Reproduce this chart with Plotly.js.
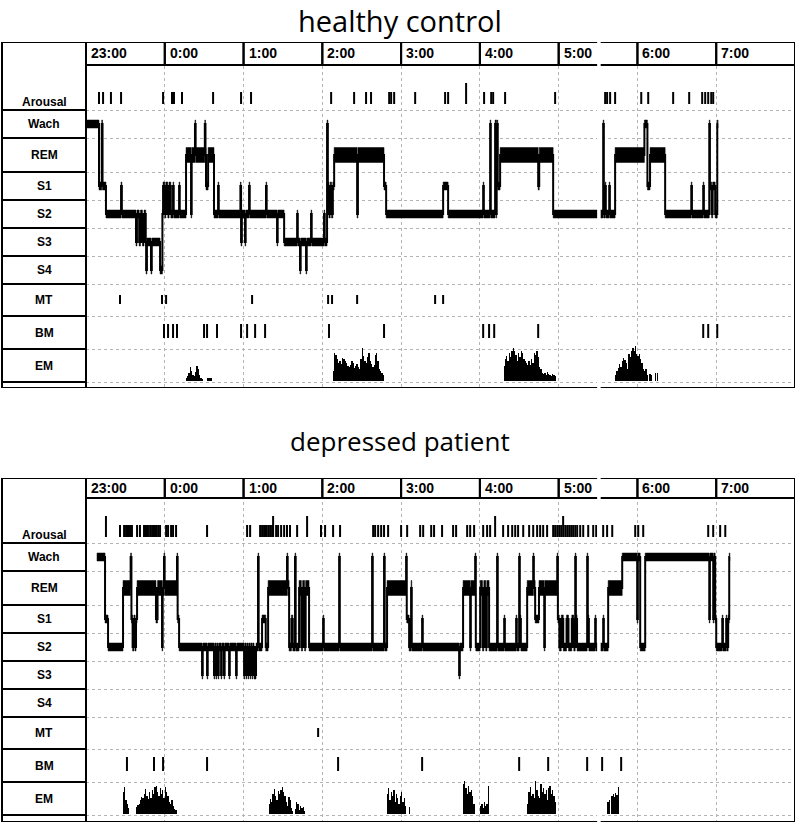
<!DOCTYPE html>
<html><head><meta charset="utf-8">
<script src="https://cdn.plot.ly/plotly-3.0.1.min.js"></script>
<style>html,body{margin:0;padding:0;background:#fff}</style>
</head><body><div id="chart" style="width:800px;height:825px"></div>
<script>
// ---------- DATA (times in minutes after 23:00) ----------
const hourLabels = ['23:00','0:00','1:00','2:00','3:00','4:00','5:00','6:00','7:00'];
const rowLabels = ['Arousal','Wach','REM','S1','S2','S3','S4','MT','BM','EM'];
const panelTitles = ['healthy control','depressed patient'];

// healthy control hypnogram
const hypTopTimes = [0,9.9,12.0,12.6,15.2,26.7,27.3,38.1,38.8,40.5,41.5,43.0,44.2,45.5,45.8,46.4,49.5,50.1,56.4,58.2,
 58.7,60.0,60.8,62.3,63.3,64.6,66.3,66.8,70.9,71.4,76.2,80.0,80.5,83.0,83.5,90.5,91.0,91.4,93.0,97.5,
 100.6,101.1,117.6,118.1,118.7,121.1,121.6,124.2,124.7,137.1,137.6,145.5,146.0,150.9,160.8,161.3,163.0,163.5,167.6,168.1,
 171.4,171.9,181.3,181.8,183.6,184.2,185.0,186.0,187.0,188.0,189.0,206.5,207.1,227.0,228.6,272.0,275.8,302.5,303.0,307.8,
 308.3,311.6,312.4,312.8,313.6,315.4,344.4,345.2,355.8,393.9,394.4,395.4,395.9,398.5,399.0,403.0,425.3,427.6,429.6,441.1,
 461.0,461.5,470.1,470.6,474.7,475.2,476.5,477.3,479.2,480.8,481.4];
const hypTopStages = ['Wach','S1','Wach','S1','S2','S1','S2','S3','S2','S3','S2','S3','S2','S3','S4','S3','S4','S3','S4','S2',
 'S1','S2','S1','S2','S1','S2','S1','S2','S1','S2','REM','S2','REM','Wach','REM','Wach','REM','S1','REM','S2',
 'S1','S2','S1','S3','S2','S3','S2','S1','S2','S1','S2','S3','S2','S3','S2','S3','S4','S3','S4','S3',
 'S2','S3','S2','S3','Wach','S1','S2','S1','S2','S1','REM','S2','REM','S1','S2','S1','S2','S1','S2','Wach',
 'S2','Wach','S2','Wach','S1','REM','S1','REM','S2','Wach','S2','S1','S2','S1','S2','REM','Wach','S1','REM','S2',
 'S1','S2','S1','S2','Wach','S1','S2','S1','S2','Wach','Wach'];

// depressed patient hypnogram
const hypBotTimes = [8.4,14.5,16.8,28.2,34.0,34.6,35.5,36.5,37.3,38.1,38.9,53.3,54.5,57.9,58.4,59.4,59.9,69.3,69.8,70.9,
 88.4,88.9,92.2,92.7,97.5,98.0,99.0,99.5,100.6,101.1,102.9,103.4,105.1,105.6,109.0,109.5,114.3,114.8,120.4,120.9,
 121.9,122.4,123.4,123.9,125.0,125.5,126.5,127.0,128.0,129.5,131.0,131.5,134.1,136.9,138.7,153.1,153.6,154.7,156.5,157.5,
 159.2,159.7,162.3,164.0,165.0,166.5,167.3,169.9,180.6,181.1,192.8,193.3,217.9,218.4,227.0,227.5,229.3,243.8,244.3,246.1,
 247.6,248.1,256.0,256.5,284.2,284.7,287.2,292.6,293.1,296.4,296.9,300.2,302.0,303.0,304.5,305.3,307.0,313.1,313.6,318.5,
 319.0,327.6,328.1,329.9,330.4,331.2,336.0,340.6,341.1,342.1,345.0,349.0,349.5,358.9,359.4,360.5,362.0,363.5,366.0,367.5,
 370.0,371.5,372.6,373.1,374.0,381.7,382.2,383.0,387.8,388.3,393.9,394.4,397.7,408.4,419.8,420.3,422.1,425.9,474.7,475.2,
 477.7,478.2,479.2,480.0,484.6,485.1,487.6,488.1,489.1,489.9,490.4];
const hypBotStages = ['Wach','S1','S2','REM','Wach','S1','S2','S1','S2','S1','REM','S1','REM','S2','REM','Wach','REM','Wach','S1','S2',
 'S3','S2','S3','S2','S3','S2','S3','S2','S3','S2','S3','S2','S3','S2','S3','S2','S3','S2','S3','S2',
 'S3','S2','S3','S2','S3','S2','S3','S2','S3','S2','Wach','S2','S1','S2','REM','Wach','REM','S2','S1','S2',
 'Wach','S2','REM','S2','REM','S2','REM','S2','S1','S2','Wach','S2','Wach','S2','Wach','S2','REM','Wach','S1','S2',
 'REM','S2','S1','S2','S3','S2','REM','S2','REM','Wach','S2','REM','S2','REM','S2','REM','S2','Wach','S2','S1',
 'S2','S1','S2','Wach','S1','S2','REM','Wach','REM','S1','REM','S2','REM','Wach','S1','S2','S1','S2','S1','S2',
 'S1','S2','Wach','S1','S2','Wach','S1','S2','S1','S2','S1','S2','REM','Wach','S1','Wach','S2','Wach','S1','Wach',
 'S1','Wach','S1','S2','S1','S2','S1','S2','S1','Wach','Wach'];

// event markers
const arousalTopTimes = [9.9,13.0,19.0,26.7,58.7,65.5,67.0,73.1,96.8,118.1,125.7,186.7,204.2,213.3,217.1,230.9,232.4,234.7,250.7,273.5,
 275.8,303.2,308.6,310.1,319.2,357.3,395.4,396.9,399.2,403.0,422.9,428.2,447.2,459.4,469.3,471.6,473.9,476.2,477.7];
const arousalTopTall = [289.5];
const arousalBotTimes = [25.9,29.0,30.5,32.0,33.5,35.0,38.9,41.1,44.2,45.7,47.2,48.8,50.3,51.8,53.3,54.9,56.4,61.0,62.5,64.8,
 66.3,68.6,92.2,122.7,125.0,132.6,134.1,135.6,137.1,138.7,140.2,141.7,144.8,146.3,148.6,150.9,153.1,155.4,160.8,179.0,
 182.1,188.2,193.5,218.7,220.2,222.5,224.8,227.0,230.1,240.0,244.6,254.5,256.8,262.9,265.1,271.2,279.6,281.9,290.3,292.6,
 295.6,302.5,305.5,307.8,317.7,321.5,324.6,326.9,329.1,333.0,337.5,340.6,343.6,345.9,348.2,351.2,355.8,357.3,358.9,360.4,
 361.9,365.0,366.5,368.0,369.5,371.0,372.6,374.1,376.4,378.7,382.5,386.3,388.6,393.9,396.9,400.8,418.3,420.6,424.4,473.9,
 477.7,483.0,486.9];
const arousalBotTall = [15.2,142.5,168.4,311.6,363.4];
const mtTopTimes = [25.9,57.9,61.0,126.5,184.4,187.4,206.5,265.9,272.0];
const bmTopTimes = [59.4,62.5,66.3,69.3,89.9,92.2,99.8,118.1,122.7,128.8,136.4,185.1,227.0,302.5,307.0,310.9,344.4,470.1,473.9,480.8];
const mtBotTimes = [176.8];
const bmBotTimes = [31.2,51.8,58.7,92.2,192.0,256.0,329.9,352.0,381.7,393.1,407.6];

// eye movements: burst start minute + per-minute amplitudes
const emTopStarts = [76, 92, 188, 318, 403];
const emTopLevels = [
 [3,5,8,14,10,6,5,9,15,12,6,3,2],
 [3,3,3,3],
 [10,28,26,22,18,20,17,23,22,20,18,15,14,16,20,18,13,15,17,14,12,22,33,25,20,18,24,28,20,17,14,16,26,28,20,12,10,8,6],
 [15,22,25,20,28,24,30,33,30,26,20,28,24,30,28,22,20,18,16,20,16,22,18,28,26,30,24,14,12,8,7,8,6,9,7,6,5,7,6,5],
 [6,10,13,17,14,20,23,21,18,12,27,24,30,33,30,35,27,25,27,22,18,12,10,12,6,0,7,6,0,0,8,0,8]
];
const emBotStarts = [28, 38, 139, 229, 287, 336, 397];
const emBotLevels = [
 [22,27,14,10,6],
 [7,9,10,14,17,16,20,25,18,15,22,16,24,20,27,28,22,18,26,20,24,16,27,22,18,12,10,14,8,5,4],
 [10,15,12,20,25,18,14,23,20,24,27,22,18,12,8,17,14,6,3,0,5,12,10,4,8,6,7,3],
 [20,26,14,22,18,24,12,20,16,10,18,22,12,16,8,0,0,7],
 [30,33,26,20,28,22,24,18,10,0,0,0,0,8,10,6,12,8,10,28],
 [10,22,27,18,20,16,33,24,18,16,30,22,26,20,24,14,26,28,20,24,18,12],
 [12,14,0,18,20,17,21,19,27]
];

// ---------- LAYOUT CONSTANTS ----------
const W = 800, H = 825;
const rowEdges = [-45, 0, 28, 62, 90, 118, 146, 174, 206, 239, 272];
const stageRow = {Wach:1, REM:2, S1:3, S2:4, S3:5, S4:6};
const rowCenter = i => (rowEdges[i] + rowEdges[i+1]) / 2;
const panels = [
  {xa:'x', ya:'y', top:-68, bot:278, pxTop:42, pxBot:388, titleY:20, titleSize:29,
   hypT:hypTopTimes, hypS:hypTopStages, ar:arousalTopTimes, arT:arousalTopTall, mt:mtTopTimes, bm:bmTopTimes, emS:emTopStarts, emL:emTopLevels},
  {xa:'x2', ya:'y2', top:-65, bot:279, pxTop:478, pxBot:822, titleY:441, titleSize:26,
   hypT:hypBotTimes, hypS:hypBotStages, ar:arousalBotTimes, arT:arousalBotTall, mt:mtBotTimes, bm:bmBotTimes, emS:emBotStarts, emL:emBotLevels}
];
const leftPx = 2, colPx = 86, rightPx = 795;
const spliceX = [389.3, 392.0];
const halfBand = {REM:7.5, other:4};

const traces = [], shapes = [], annotations = [];
const black = '#000';

function tickTrace(times, y0, y1, p, w){
  const x=[], y=[];
  times.forEach(t=>{x.push(t,t,null); y.push(y0,y1,null);});
  return {type:'scatter', mode:'lines', x, y, xaxis:p.xa, yaxis:p.ya, line:{color:black, width:w||2}, hoverinfo:'skip', showlegend:false};
}

panels.forEach((p, k) => {
  // hypnogram: thin step line + solid bands for each epoch run
  const ys = p.hypS.map(s => rowCenter(stageRow[s]));
  traces.push({type:'scatter', mode:'lines', x:p.hypT, y:ys, xaxis:p.xa, yaxis:p.ya,
    line:{shape:'hv', width:2, color:black}, hoverinfo:'skip', showlegend:false});
  const bx=[], by=[];
  for (let i=0;i<p.hypT.length-1;i++){
    const h = p.hypS[i]==='REM' ? halfBand.REM : halfBand.other;
    const a = p.hypT[i], b = p.hypT[i+1], c = ys[i];
    bx.push(a, b, b, a, a, null);
    by.push(c-h, c-h, c+h, c+h, c-h, null);
  }
  traces.push({type:'scatter', mode:'lines', x:bx, y:by, xaxis:p.xa, yaxis:p.ya, fill:'toself', fillcolor:black,
    line:{width:0.5, color:black}, hoverinfo:'skip', showlegend:false});
  // markers
  traces.push(tickTrace(p.ar, -6, -18, p));
  traces.push(tickTrace(p.arT, -6, -27, p));
  traces.push(tickTrace(p.mt, 185, 194, p));
  traces.push(tickTrace(p.bm, 214, 228, p));
  // eye movements
  const ex=[], ey=[];
  p.emS.forEach((s,j)=>p.emL[j].forEach((v,i)=>{ ex.push(s+i+0.5); ey.push(-v); }));
  traces.push({type:'bar', x:ex, y:ey, base:271, width:1, xaxis:p.xa, yaxis:p.ya,
    marker:{color:black, line:{width:0}}, hoverinfo:'skip', showlegend:false});

  // title
  annotations.push({xref:'paper', yref:'paper', x:0.5, y:1-p.titleY/H, text:panelTitles[k], showarrow:false,
    xanchor:'center', yanchor:'middle', font:{family:'Open Sans, sans-serif', size:p.titleSize, color:black}});
  // header cells
  hourLabels.forEach((lab,i)=>{
    shapes.push({type:'rect', xref:p.xa, yref:p.ya, x0:i*60, x1:(i+1)*60, y0:p.top, y1:rowEdges[0], line:{color:black, width:2}});
    annotations.push({xref:p.xa, yref:p.ya, x:i*60, y:(p.top+rowEdges[0])/2, xanchor:'left', yanchor:'middle', xshift:3,
      text:'<b>'+lab+'</b>', showarrow:false, font:{family:'Liberation Sans, Arial, sans-serif', size:14, color:black}});
  });
  // outer frame
  shapes.push({type:'rect', xref:p.xa, yref:p.ya, x0:0, x1:540, y0:p.top, y1:p.bot, line:{color:black, width:2}});
  // label column
  shapes.push({type:'rect', xref:'paper', yref:p.ya, x0:leftPx/W, x1:colPx/W, y0:p.top, y1:p.bot, line:{color:black, width:2}});
  for (let i=1;i<rowEdges.length;i++){
    shapes.push({type:'line', xref:'paper', yref:p.ya, x0:leftPx/W, x1:colPx/W, y0:rowEdges[i], y1:rowEdges[i], line:{color:black, width:2}});
  }
  rowLabels.forEach((lab,i)=>{
    annotations.push({xref:'paper', yref:p.ya, x:(leftPx+colPx)/2/W, y:i===0 ? -8 : rowCenter(i), xanchor:'center', yanchor:'middle',
      text:'<b>'+lab+'</b>', showarrow:false, font:{family:'Liberation Sans, Arial, sans-serif', size:12, color:black}});
  });
  // page splice gap
  shapes.push({type:'rect', xref:p.xa, yref:p.ya, x0:spliceX[0], x1:spliceX[1], y0:p.top-3, y1:p.bot+3, fillcolor:'#fff', line:{width:0}});
});

function yAxis(p){
  return {domain:[1-p.pxBot/H, 1-p.pxTop/H], range:[p.bot, p.top], tickvals:rowEdges, showticklabels:false, ticks:'',
    showgrid:true, gridcolor:'#b4b4b4', griddash:'dot', gridwidth:1, zeroline:false, showline:false, anchor:p.xa, fixedrange:true};
}
function xAxis(p){
  return {domain:[colPx/W, rightPx/W], range:[0,540], tickvals:[0,60,120,180,240,300,360,420,480,540], showticklabels:false, ticks:'',
    showgrid:true, gridcolor:'#b4b4b4', griddash:'dot', gridwidth:1, zeroline:false, showline:false, anchor:p.ya, fixedrange:true};
}

const layout = {
  width:W, height:H, margin:{l:0,r:0,t:0,b:0}, paper_bgcolor:'#fff', plot_bgcolor:'#fff',
  showlegend:false, bargap:0,
  xaxis:xAxis(panels[0]), yaxis:yAxis(panels[0]),
  xaxis2:xAxis(panels[1]), yaxis2:yAxis(panels[1]),
  shapes, annotations
};
Plotly.newPlot('chart', traces, layout, {staticPlot:true, displayModeBar:false});
</script>
</body></html>
